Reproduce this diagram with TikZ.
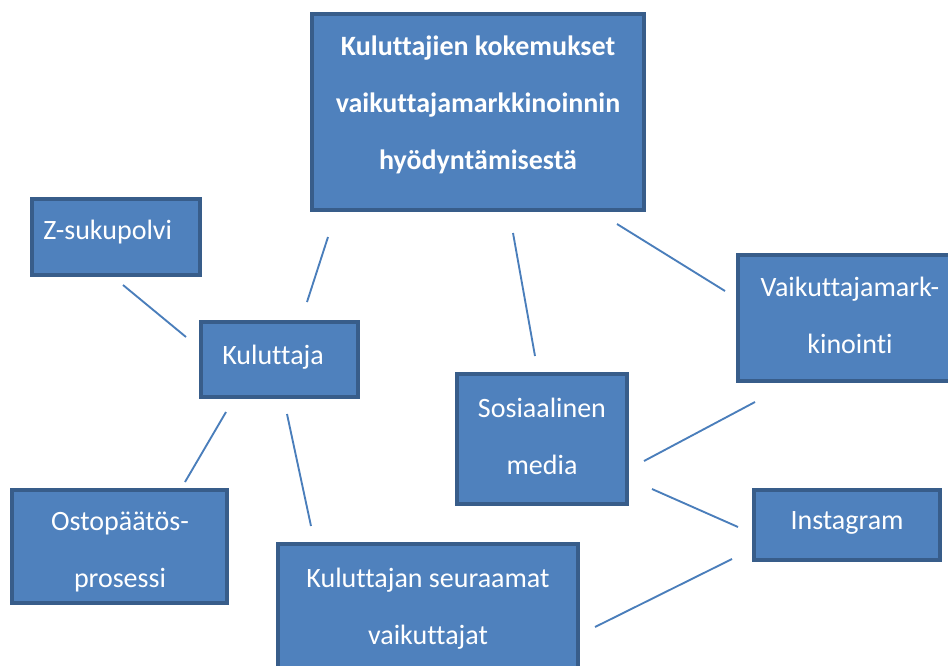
\documentclass[tikz,border=0pt]{standalone}
\usepackage{fontspec}
\setmainfont{Carlito}[Ligatures=NoCommon]
\usepackage{tikz}
\definecolor{boxfill}{HTML}{4F81BD}
\definecolor{boxline}{HTML}{385D8A}
\definecolor{linkblue}{HTML}{4A7EBB}
\tikzset{
  box/.style={draw=boxline, fill=boxfill, line width=3pt, inner sep=0pt},
  boxsize/.style 2 args={minimum width=#1*0.75pt, minimum height=#2*0.75pt},
  txt/.style={text=white, align=center, inner sep=0pt, font=\fontsize{21}{42.75}\selectfont},
  link/.style={draw=linkblue, line width=1.4pt}
}
\begin{document}
\begin{tikzpicture}[x=0.75pt, y=-0.75pt]
  \useasboundingbox[fill=white] (0,0) rectangle (948,665);
  % boxes
  \node[box, boxsize={332}{196}] (top) at (478,112) {};
  \node[box, boxsize={168}{76}] (zsuk) at (116,237) {};
  \node[box, boxsize={157}{75}] (kul) at (279.5,359.5) {};
  \node[box, boxsize={215}{113}] (osto) at (119.5,546.5) {};
  \node[box, boxsize={300}{129}] (seur) at (428,608.5) {};
  \node[box, boxsize={170}{130}] (some) at (542,439) {};
  \node[box, boxsize={224}{126}] (vaik) at (850,318) {};
  \node[box, boxsize={186}{70}] (insta) at (847,525) {};
  % texts
  \node[txt, font=\fontsize{21}{42.75}\selectfont\bfseries] (top-t) at (478,105)
    {Kuluttajien kokemukset\\vaikuttajamarkkinoinnin\\hyödyntämisestä};
  \node[txt, anchor=west] (zsuk-t) at (43,232) {Z-sukupolvi};
  \node[txt, anchor=west] (kul-t) at (222,357) {Kuluttaja};
  \node[txt] (osto-t) at (120,552) {Ostopäätös-\\prosessi};
  \node[txt] (seur-t) at (428,608.5) {Kuluttajan seuraamat\\vaikuttajat};
  \node[txt] (some-t) at (542,436.5) {Sosiaalinen\\media};
  \node[txt] (vaik-t) at (850,315.5) {Vaikuttajamark-\\kinointi};
  \node[txt] (insta-t) at (847,523) {Instagram};
  % connector ends
  \coordinate (zsuk-e) at (123,285);  \coordinate (kul-w) at (186,337);
  \coordinate (kul-n) at (307,302);   \coordinate (top-sw) at (328,237);
  \coordinate (top-s) at (513,233);   \coordinate (some-n) at (535,356);
  \coordinate (top-se) at (617,224);  \coordinate (vaik-w) at (725,291);
  \coordinate (some-e) at (644,461);  \coordinate (vaik-s) at (755,402);
  \coordinate (some-se) at (652,489); \coordinate (insta-w) at (738,527);
  \coordinate (insta-sw) at (732,559); \coordinate (seur-e) at (595,627);
  \coordinate (kul-sw) at (226,412);  \coordinate (osto-n) at (185,482);
  \coordinate (kul-s) at (287,414);   \coordinate (seur-n) at (311,526);
  % connectors
  \draw[link] (zsuk-e) -- (kul-w);
  \draw[link] (kul-n) -- (top-sw);
  \draw[link] (top-s) -- (some-n);
  \draw[link] (top-se) -- (vaik-w);
  \draw[link] (some-e) -- (vaik-s);
  \draw[link] (some-se) -- (insta-w);
  \draw[link] (insta-sw) -- (seur-e);
  \draw[link] (kul-sw) -- (osto-n);
  \draw[link] (kul-s) -- (seur-n);
\end{tikzpicture}
\end{document}
